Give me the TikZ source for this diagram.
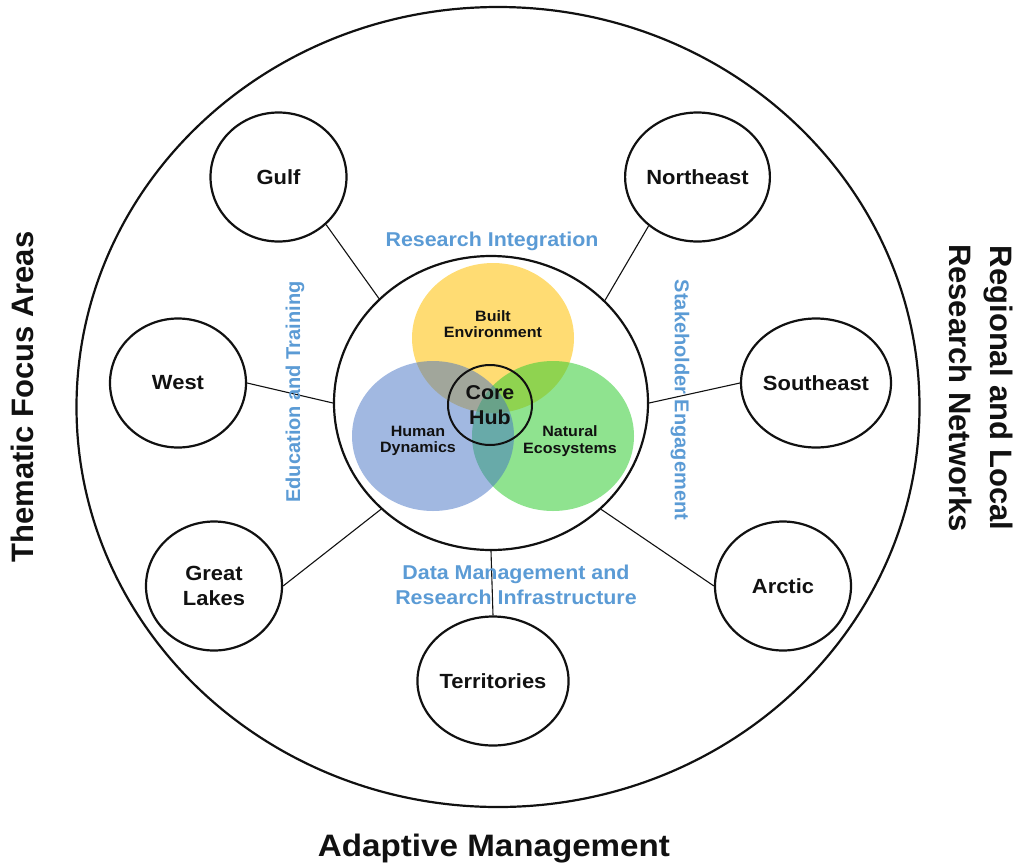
\documentclass[tikz,border=0pt]{standalone}
\usepackage{fontspec}
\setmainfont{Liberation Sans}
\newfontfamily\hfont[FakeStretch=1.07]{Liberation Sans}
\usetikzlibrary{shapes.geometric}
\definecolor{lblue}{HTML}{5B9BD5}
\definecolor{vorange}{HTML}{FFC000}
\definecolor{vblue}{HTML}{4472C4}
\definecolor{vgreen}{HTML}{33CC33}
\definecolor{ink}{HTML}{111111}
\begin{document}
\begin{tikzpicture}[x=1pt,y=-1pt,
  ring/.style={draw=ink, ellipse, line width=2.2pt, inner sep=0pt},
  sat/.style={ring, minimum width=136pt, minimum height=129pt, text=ink, align=center,
    font=\hfont\bfseries\fontsize{20.5}{25.5}\selectfont},
  conn/.style={draw=ink, line width=1.1pt},
  venn/.style={ellipse, fill opacity=#1, inner sep=0pt, minimum width=162pt, minimum height=150pt},
  vlab/.style={text=ink, align=center, font=\hfont\bfseries\fontsize{15}{16.5}\selectfont},
  lab/.style={text=lblue, align=center, font=\hfont\bfseries\fontsize{20}{25}\selectfont},
  vlab2/.style={text=lblue, align=center, font=\bfseries\fontsize{20}{25}\selectfont},
  big/.style={text=ink, align=center, font=\bfseries\fontsize{31}{41}\selectfont},
  bigh/.style={text=ink, align=center, font=\hfont\bfseries\fontsize{31}{41}\selectfont},
]
\useasboundingbox (0,0) rectangle (1019,865);

% outer ring
\node[ring, minimum width=843pt, minimum height=800pt] (outer) at (498,407) {};

% Venn diagram
\node[venn=.55, fill=vorange] (built) at (493,338) {};
\node[venn=.55, fill=vgreen] (natural) at (553,436) {};
\node[venn=.5, fill=vblue] (human) at (433,436) {};

% inner ring
\node[ring, minimum width=314pt, minimum height=294pt] (inner) at (491,403) {};

\node[vlab] (tbuilt) at (493,324) {Built\\Environment};
\node[vlab] (thuman) at (418,441) {Human\\Dynamics};
\node[vlab] (tnatural) at (570,441) {Natural\\Ecosystems};

\node[ring, line width=2pt, minimum width=84pt, minimum height=80pt, text=ink, align=center,
  font=\hfont\bfseries\fontsize{20}{25}\selectfont] (hub) at (490,405) {Core\\Hub};

% satellites
\node[sat] (gulf) at (278.5,177) {Gulf};
\node[sat] (ne) at (697.5,177) {Northeast};
\node[sat] (west) at (178,383) {West};
\node[sat] (se) at (816,383) {Southeast};
\node[sat] (gl) at (214,586) {Great\\Lakes};
\node[sat] (arctic) at (783,586) {Arctic};
\node[sat] (terr) at (493,681) {Territories};

% connectors
\draw[conn] (gulf.-45) -- (inner.137);
\draw[conn] (ne.-135) -- (inner.42);
\draw[conn] (west.0) -- (inner.180);
\draw[conn] (se.180) -- (inner.0);
\draw[conn] (gl.0) -- (inner.-136);
\draw[conn] (arctic.180) -- (inner.-44);
\draw[conn] (terr.90) -- (inner.-90);

% blue labels
\node[lab] (ri) at (492,241) {Research Integration};
\node[vlab2, rotate=90] (et) at (295,392) {Education and Training};
\node[vlab2, rotate=-90] (st) at (680,400) {Stakeholder Engagement};
\node[lab] (dm) at (516,585) {Data Management and\\Research Infrastructure};

% outer labels
\node[big, rotate=90] (tfa) at (22,397) {Thematic Focus Areas};
\node[big, rotate=-90] (rln) at (981.5,388) {Regional and Local\\Research Networks};
\node[bigh] (am) at (494,849) {Adaptive Management};
\end{tikzpicture}
\end{document}
